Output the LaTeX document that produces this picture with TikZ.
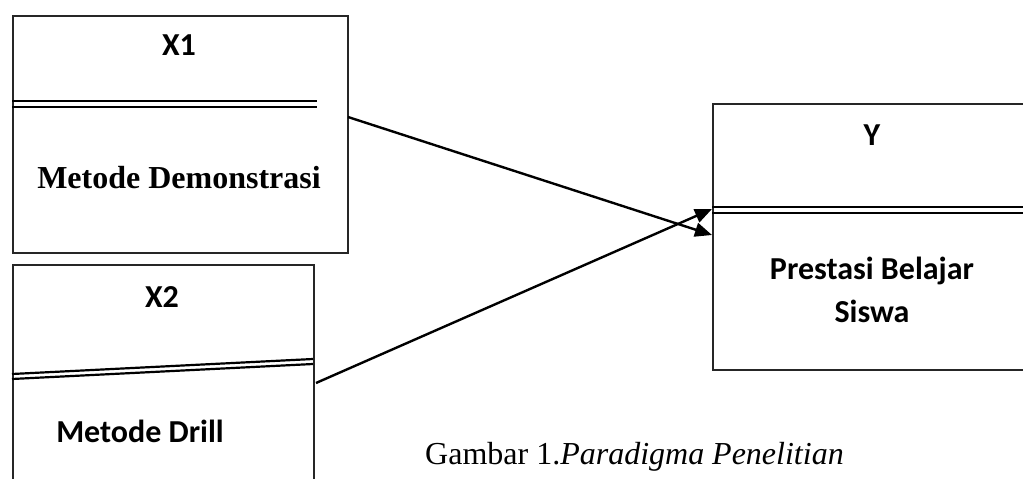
\documentclass[tikz,border=0pt]{standalone}
\usepackage{fontspec}
\setmainfont{Liberation Serif}
\newfontfamily\calib{Carlito}
\usetikzlibrary{arrows.meta}
\tikzset{
  box/.style={draw=black!85, line width=2pt, rectangle, inner sep=0pt, anchor=north west},
  sep/.style={draw=black, line width=2.2pt},
  lbl/.style={font=\calib\bfseries\fontsize{32}{38}\selectfont, anchor=base, inner sep=0pt},
  serlbl/.style={font=\bfseries\fontsize{32}{38}\selectfont, anchor=base, inner sep=0pt},
  conn/.style={draw=black, line width=2.4pt, -{Triangle[length=17pt,width=14pt]}}
}
\begin{document}
\begin{tikzpicture}[x=1pt,y=-1pt]
\useasboundingbox (0,0) rectangle (1023,479);
\clip (0,0) rectangle (1023,479);
% boxes
\node[box, minimum width=335pt, minimum height=237pt] (x1box) at (12,15) {};
\node[box, minimum width=301pt, minimum height=240pt] (x2box) at (12,264) {};
\node[box, minimum width=340pt, minimum height=266pt] (ybox) at (712,103) {};
% separators
\draw[sep] (12,101) -- (317,101);
\draw[sep] (12,107) -- (317,107);
\draw[sep] (12,374) -- (313,359);
\draw[sep] (12,379) -- (313,364);
\draw[sep] (712,207) -- (1030,207);
\draw[sep] (712,213) -- (1030,213);
% labels
\node[lbl] (tx1) at (179,55) {X1};
\node[serlbl] (tmd) at (179,188) {Metode Demonstrasi};
\node[lbl] (tx2) at (162,307) {X2};
\node[lbl] (tmdr) at (140,442) {Metode Drill};
\node[lbl] (ty) at (872,145) {Y};
\node[lbl] (tpb) at (872,279) {Prestasi Belajar};
\node[lbl] (tsw) at (872,322) {Siswa};
\node[anchor=base west, inner sep=0pt, font=\fontsize{32}{38}\selectfont] (cap) at (425,464) {Gambar 1.\textit{Paradigma Penelitian}};
% connector endpoints
\coordinate (s1) at (348,117);
\coordinate (e1) at (712,235);
\coordinate (s2) at (316,383);
\coordinate (e2) at (712,209);
\draw[conn] (s1) -- (e1);
\draw[conn] (s2) -- (e2);
\end{tikzpicture}
\end{document}
